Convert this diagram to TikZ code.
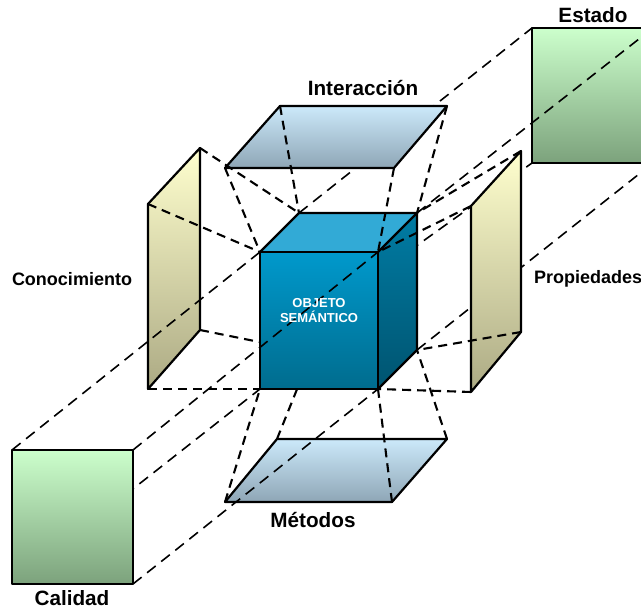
\documentclass[tikz,border=0pt]{standalone}
\usepackage{fontspec}
\setmainfont{Liberation Sans}
\begin{document}
\begin{tikzpicture}[x=1pt,y=-1pt,
  outline/.style={draw=black, line width=2.2pt, line join=round},
  link/.style={dash pattern=on 9pt off 6pt, line width=2.1pt},
  longlink/.style={dash pattern=on 11pt off 7pt, line width=1.6pt},
  lbl/.style={font=\fontsize{20.7}{24}\selectfont\bfseries, anchor=base, inner sep=0pt},
  sidelbl/.style={font=\fontsize{18}{22}\selectfont\bfseries, anchor=base, inner sep=0pt},
  cubelbl/.style={font=\fontsize{13}{15}\selectfont\bfseries, text=white, anchor=base, inner sep=0pt}]

\definecolor{blueTop}{RGB}{204,233,250}
\definecolor{blueBot}{RGB}{142,166,182}
\definecolor{yelTop}{RGB}{255,255,206}
\definecolor{yelBot}{RGB}{172,170,132}
\definecolor{grnTop}{RGB}{204,255,204}
\definecolor{grnBot}{RGB}{124,162,124}
\definecolor{cubeFrontTop}{RGB}{0,153,204}
\definecolor{cubeFrontBot}{RGB}{0,108,142}
\definecolor{cubeTopFace}{RGB}{50,170,214}
\definecolor{cubeSideTop}{RGB}{0,124,164}
\definecolor{cubeSideBot}{RGB}{0,84,112}

\useasboundingbox (0,0) rectangle (641,609);
\clip (0,0) rectangle (641,609);

% cube corners (front f*, back b*)
\coordinate (fTL) at (260,252); \coordinate (fTR) at (378,252);
\coordinate (fBL) at (260,389); \coordinate (fBR) at (378,389);
\coordinate (bTL) at (299,213); \coordinate (bTR) at (417,213);
\coordinate (bBR) at (417,350); \coordinate (bBL) at (299,350);
\coordinate (mHid) at (312,352);
\coordinate (pHid) at (380,272);

% Interaccion plane
\coordinate (iTL) at (280,106); \coordinate (iTR) at (447,106);
\coordinate (iBR) at (394,168); \coordinate (iBL) at (225,168);
% Metodos plane
\coordinate (mTL) at (277,439); \coordinate (mTR) at (447,439);
\coordinate (mBR) at (392,502); \coordinate (mBL) at (225,502);
% Conocimiento plane
\coordinate (kTR) at (200,148); \coordinate (kTL) at (148,204);
\coordinate (kBR) at (200,330); \coordinate (kBL) at (148,389);
% Propiedades plane
\coordinate (pTR) at (521,151); \coordinate (pTL) at (471,206);
\coordinate (pBR) at (521,332); \coordinate (pBL) at (471,392);
% Calidad box
\coordinate (cTL) at (12,450); \coordinate (cTR) at (133,450);
\coordinate (cBL) at (12,584); \coordinate (cBR) at (133,584);
% Estado box
\coordinate (eTL) at (532,28); \coordinate (eTR) at (653,28);
\coordinate (eBL) at (532,163); \coordinate (eBR) at (653,163);

% Estado box
\shade[top color=grnTop, bottom color=grnBot] (eTL) rectangle (eBR);
\draw[outline] (eTL) rectangle (eBR);

% lines running behind the planes and the cube
\draw[longlink] (bTL) -- (eTL);
\draw[longlink] (pHid) -- (eBL);
\draw[longlink] (bBR) -- (eBR);
\draw[longlink] (cBL) -- (fBL);
\draw[link] (kBR) -- (bBL);
\draw[link] (mTL) -- (mHid);

% side planes
\shade[top color=yelTop, bottom color=yelBot] (kTR) -- (kTL) -- (kBL) -- (kBR) -- cycle;
\draw[outline] (kTR) -- (kTL) -- (kBL) -- (kBR) -- cycle;
\shade[top color=yelTop, bottom color=yelBot] (pTR) -- (pTL) -- (pBL) -- (pBR) -- cycle;
\draw[outline] (pTR) -- (pTL) -- (pBL) -- (pBR) -- cycle;
% horizontal planes
\shade[top color=blueTop, bottom color=blueBot] (iTL) -- (iTR) -- (iBR) -- (iBL) -- cycle;
\draw[outline] (iTL) -- (iTR) -- (iBR) -- (iBL) -- cycle;
\shade[top color=blueTop, bottom color=blueBot] (mTL) -- (mTR) -- (mBR) -- (mBL) -- cycle;
\draw[outline] (mTL) -- (mTR) -- (mBR) -- (mBL) -- cycle;

% cube
\fill[cubeTopFace] (fTL) -- (bTL) -- (bTR) -- (fTR) -- cycle;
\shade[top color=cubeSideTop, bottom color=cubeSideBot] (fTR) -- (bTR) -- (bBR) -- (fBR) -- cycle;
\shade[top color=cubeFrontTop, bottom color=cubeFrontBot] (fTL) rectangle (fBR);
\draw[outline] (fTL) -- (bTL) -- (bTR) -- (bBR) -- (fBR);
\draw[outline] (fTL) rectangle (fBR);
\draw[outline] (fTR) -- (bTR);

% planes to cube
\draw[link] (iTL) -- (bTL);
\draw[link] (iBL) -- (fTL);
\draw[link] (iBR) -- (fTR);
\draw[link] (iTR) -- (bTR);
\draw[link] (kTR) -- (bTL);
\draw[link] (kTL) -- (fTL);
\draw[link] (kBL) -- (fBL);
\draw[link] (pTR) -- (bTR);
\draw[link] (pTL) -- (fTR);
\draw[link] (pBR) -- (bBR);
\draw[link] (pBL) -- (fBR);
\draw[link] (mBL) -- (fBL);
\draw[link] (mBR) -- (fBR);
\draw[link] (mTR) -- (bBR);

% Calidad to Estado through the cube
\draw[longlink] (cTL) -- (fTL);
\draw[longlink] (cTR) -- (fTR);
\draw[longlink] (cBR) -- (fBR);
\draw[longlink] (bTR) -- (eTR);

% Calidad box
\shade[top color=grnTop, bottom color=grnBot] (cTL) rectangle (cBR);
\draw[outline] (cTL) rectangle (cBR);

% labels
\node[lbl] (tInter) at (363,96) {Interacción};
\node[lbl] (tMet) at (313,528) {Métodos};
\node[lbl] (tEst) at (593,23) {Estado};
\node[lbl] (tCal) at (72,606) {Calidad};
\node[sidelbl] (tCon) at (72,286) {Conocimiento};
\node[sidelbl, anchor=base west] (tProp) at (534,284) {Propiedades};
\node[cubelbl] (tObj1) at (319,308) {OBJETO};
\node[cubelbl] (tObj2) at (319,323) {SEMÁNTICO};
\end{tikzpicture}
\end{document}
